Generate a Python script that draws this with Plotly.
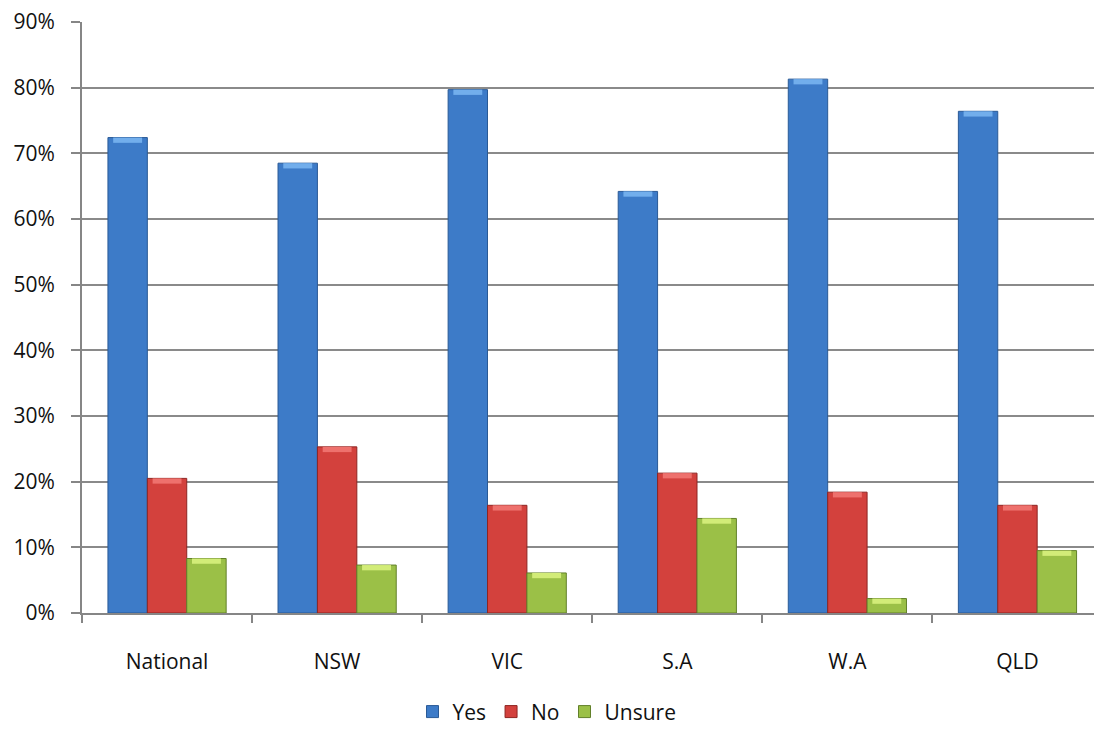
import plotly.graph_objects as go

categories = ["National", "NSW", "VIC", "S.A", "W.A", "QLD"]
yes_vals = [0.724, 0.685, 0.797, 0.642, 0.813, 0.764]
no_vals = [0.205, 0.253, 0.164, 0.213, 0.184, 0.164]
unsure_vals = [0.083, 0.073, 0.061, 0.144, 0.022, 0.095]
y_ticks = [0, 0.1, 0.2, 0.3, 0.4, 0.5, 0.6, 0.7, 0.8, 0.9]
y_labels = ["0%", "10%", "20%", "30%", "40%", "50%", "60%", "70%", "80%", "90%"]

series = [
    ("Yes", yes_vals, "#3D7BC8", "#2A5A96", "#72AEEC"),
    ("No", no_vals, "#D3413D", "#8E2522", "#EE716D"),
    ("Unsure", unsure_vals, "#9BC047", "#62802A", "#D2EC78"),
]
CAP = 0.008

FONT = "Open Sans, Lato, sans-serif"

fig = go.Figure()
for name, vals, col, edge, light in series:
    fig.add_trace(go.Bar(
        name=name, x=categories, y=vals, offsetgroup=name,
        marker=dict(color=col, line=dict(color=edge, width=1)),
        hoverinfo="skip",
    ))
for name, vals, col, edge, light in series:
    fig.add_trace(go.Bar(
        name=name, x=categories, y=[CAP] * len(vals),
        base=[v - CAP for v in vals], offsetgroup=name,
        marker=dict(color=light, line=dict(width=0)),
        width=0.17,
        showlegend=False, hoverinfo="skip",
    ))

fig.update_layout(
    width=1094, height=737,
    margin=dict(l=82, r=0, t=22, b=124),
    paper_bgcolor="white", plot_bgcolor="white",
    barmode="group", bargap=0.305, bargroupgap=0.0,
    font=dict(family=FONT, size=21, color="#111111"),
    showlegend=True,
    legend=dict(
        orientation="h", xref="container", yref="container",
        x=0.5, xanchor="center", y=0.034, yanchor="middle",
        font=dict(family=FONT, size=21, color="#111111"),
        itemwidth=30, tracegroupgap=0,
    ),
    xaxis=dict(
        range=[-0.5, 5.45],
        showline=True, linecolor="#868686", linewidth=2,
        ticks="outside", tickson="boundaries", ticklen=8, tickwidth=2,
        tickcolor="#868686", showgrid=False,
        tickfont=dict(family=FONT, size=21, color="#111111"),
        ticklabelstandoff=29,
    ),
    yaxis=dict(
        range=[0, 0.9], tickvals=y_ticks, ticktext=y_labels,
        showline=True, linecolor="#868686", linewidth=2,
        ticks="outside", ticklen=9, tickwidth=2, tickcolor="#868686",
        showgrid=True, gridcolor="#8A8A8A", gridwidth=2,
        zeroline=False,
        tickfont=dict(family=FONT, size=21, color="#111111"),
        ticklabelstandoff=12,
    ),
)

fig.write_html("out.html")
